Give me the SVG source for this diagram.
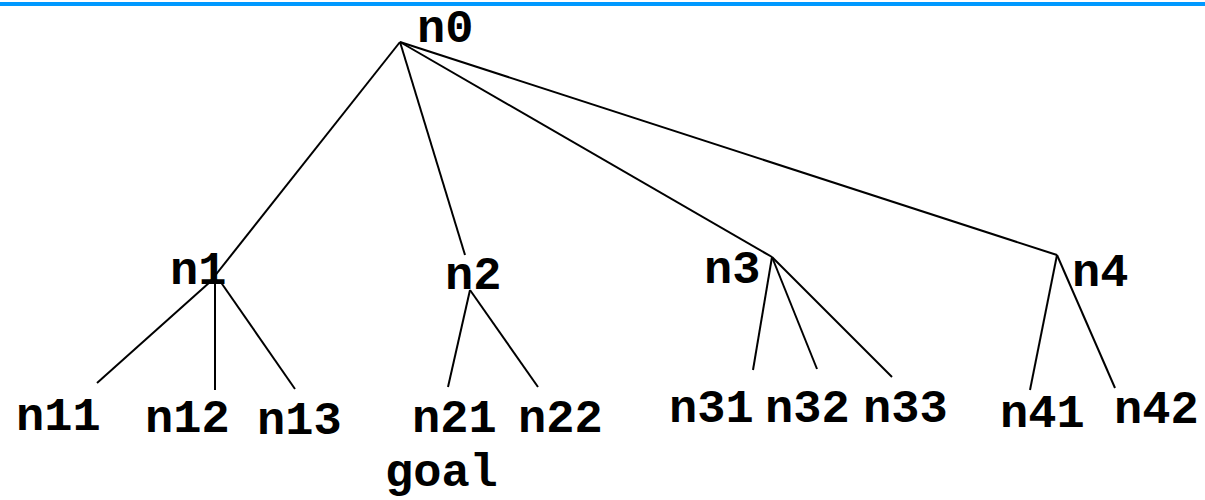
<svg xmlns="http://www.w3.org/2000/svg" width="1205" height="500" viewBox="0 0 1205 500">
<style>
text{font-family:"Courier New","Liberation Mono",monospace;font-weight:bold;font-size:47px;fill:#000}
.e line{stroke:#000;stroke-width:2;stroke-linecap:butt}
</style>
<rect width="1205" height="500" fill="#fff"/>
<line x1="0" y1="4" x2="1205" y2="4" stroke="#0099ff" stroke-width="4"/>
<g id="connectors" class="e">
<line x1="400" y1="42" x2="210" y2="282"/>
<line x1="400" y1="42" x2="465" y2="255"/>
<line x1="400" y1="42" x2="772" y2="257"/>
<line x1="400" y1="42" x2="1057" y2="255"/>
<line x1="210" y1="282" x2="97" y2="383"/>
<line x1="215" y1="283" x2="215" y2="390"/>
<line x1="220" y1="281" x2="295" y2="389"/>
<line x1="470" y1="290" x2="448" y2="387"/>
<line x1="470" y1="290" x2="538" y2="387"/>
<line x1="772" y1="257" x2="753" y2="370"/>
<line x1="772" y1="257" x2="817" y2="369"/>
<line x1="772" y1="257" x2="892" y2="377"/>
<line x1="1057" y1="255" x2="1030" y2="390"/>
<line x1="1057" y1="255" x2="1115" y2="388"/>
</g>
<g id="n0"><text x="417" y="42">n0</text></g>
<g id="n1"><text x="170" y="284">n1</text></g>
<g id="n2"><text x="445" y="289">n2</text></g>
<g id="n3"><text x="704" y="283">n3</text></g>
<g id="n4"><text x="1072" y="286">n4</text></g>
<g id="n11"><text x="16" y="430">n11</text></g>
<g id="n12"><text x="145" y="432">n12</text></g>
<g id="n13"><text x="257" y="434">n13</text></g>
<g id="n21"><text x="412" y="432">n21</text><text x="385" y="486">goal</text></g>
<g id="n22"><text x="518" y="432">n22</text></g>
<g id="n31"><text x="669" y="422">n31</text></g>
<g id="n32"><text x="765" y="422">n32</text></g>
<g id="n33"><text x="863" y="422">n33</text></g>
<g id="n41"><text x="1000" y="427">n41</text></g>
<g id="n42"><text x="1114" y="423">n42</text></g>
</svg>
